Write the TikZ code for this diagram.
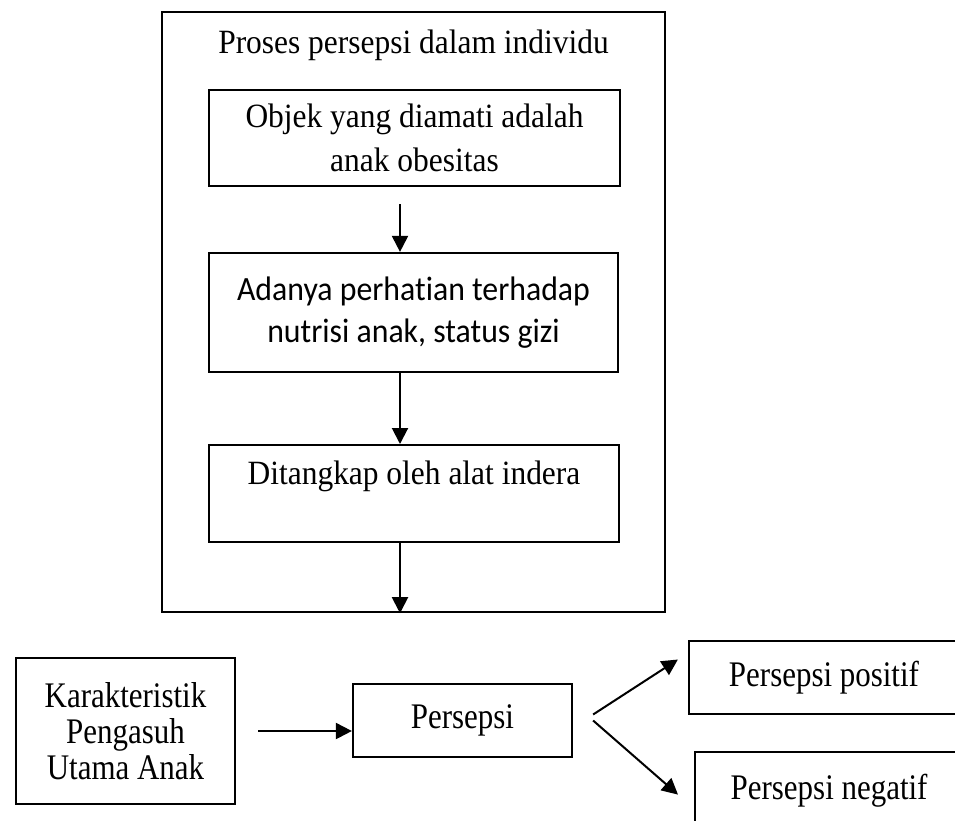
\documentclass[tikz,border=0pt]{standalone}
\usepackage{fontspec}
\setmainfont{Liberation Serif}[FakeStretch=0.925]
\newfontfamily\calibrifont{Carlito}[FakeStretch=0.935,Ligatures=NoCommon]
\newfontfamily\narrowfont{Liberation Serif}[FakeStretch=0.86]
\usetikzlibrary{shapes,arrows.meta}

\begin{document}
\begin{tikzpicture}[x=1pt,y=-1pt,
  box/.style={draw,line width=2.2pt,align=center,inner sep=0pt,font=\fontsize{34}{44}\selectfont},
  lowbox/.style={box,font=\narrowfont\fontsize{36}{36}\selectfont},
  >={Triangle[length=16pt,width=16pt]}]

  \path[use as bounding box,clip] (0,0) rectangle (955,820);

  \node[box,anchor=north,minimum width=503pt,text height=41pt,text depth=559pt] (outer) at (413.5,11) {Proses persepsi dalam individu};
  \node[box,minimum width=411pt,minimum height=96pt] (obj) at (414.5,138) {Objek yang diamati adalah\\anak obesitas};
  \node[box,font=\calibrifont\fontsize{34}{42}\selectfont,minimum width=409pt,minimum height=119pt] (att) at (413.5,312.5) {Adanya perhatian terhadap\\nutrisi anak, status gizi};
  \node[box,anchor=north,minimum width=410pt,text height=39pt,text depth=58pt] (sense) at (414,444) {Ditangkap oleh alat indera};

  \node[lowbox,minimum width=219pt,minimum height=146pt] (kar) at (125.5,731) {Karakteristik\\Pengasuh\\Utama Anak};
  \node[lowbox,minimum width=219pt,minimum height=73pt] (pers) at (462.5,720.5) {Persepsi};
  \node[lowbox,minimum width=270pt,minimum height=73pt] (pos) at (824,677.5) {Persepsi positif};
  \node[lowbox,anchor=north west,minimum width=268pt,text height=47pt,text depth=32pt] (neg) at (694,751) {Persepsi negatif};

  \coordinate (ax) at (400,0);

  \draw [->,line width=2pt] ([yshift=-17pt]ax |- obj.south) -- (ax |- att.north);
  \draw [->,line width=2pt] (ax |- att.south) -- (ax |- sense.north);
  \draw [->,line width=2pt] (ax |- sense.south) -- (ax |- outer.south);
  \draw [->,line width=2pt] ([xshift=22pt]kar.east) -- (kar.east -| pers.west);
  \draw [->,line width=2pt] ([xshift=20pt,yshift=6pt]pers.east) -- ([xshift=-10pt,yshift=18pt]pos.west);
  \draw [->,line width=2pt] ([xshift=20pt]pers.east) -- ([xshift=-16pt,yshift=-3pt]neg.west);

\end{tikzpicture}
\end{document}
